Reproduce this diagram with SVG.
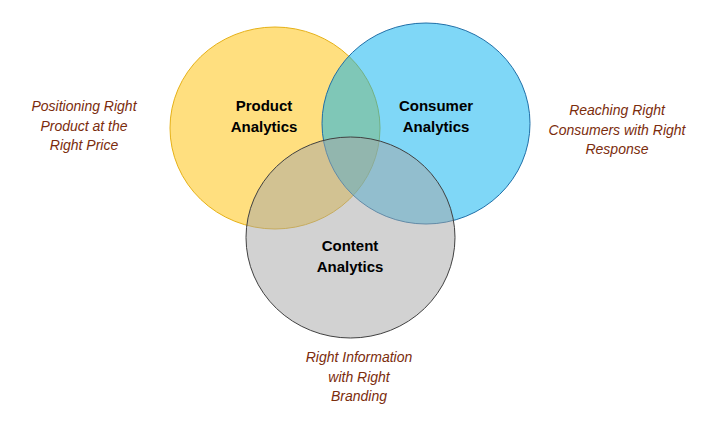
<svg xmlns="http://www.w3.org/2000/svg" width="723" height="423" viewBox="0 0 723 423">
<style>
.c{stroke-width:1}
.t{font-family:"Liberation Sans",Arial,sans-serif;font-weight:bold;font-size:15px;fill:#000;text-anchor:middle}
.n{font-family:"Liberation Sans",Arial,sans-serif;font-style:italic;font-size:14px;fill:#7B2C0C;text-anchor:middle}
</style>
<rect width="723" height="423" fill="#fff"/>
<g id="product">
<ellipse class="c" cx="275" cy="128" rx="105" ry="101" fill="#FFC000" fill-opacity="0.5" stroke="#E6B117"/>
<text class="t" x="264" y="111">Product</text>
<text class="t" x="264" y="132">Analytics</text>
</g>
<g id="consumer">
<ellipse class="c" cx="426" cy="123.5" rx="104" ry="100.5" fill="#00B0F0" fill-opacity="0.5" stroke="#1E6FA8"/>
<text class="t" x="436" y="111">Consumer</text>
<text class="t" x="436" y="132">Analytics</text>
</g>
<g id="content">
<ellipse class="c" cx="350.5" cy="237.5" rx="104.5" ry="100.5" fill="#A6A6A6" fill-opacity="0.5" stroke="#404040"/>
<text class="t" x="350" y="251">Content</text>
<text class="t" x="350" y="272">Analytics</text>
</g>
<g id="connectors"></g>
<g id="notes">
<text class="n" x="84" y="111">Positioning Right</text>
<text class="n" x="84" y="131">Product at the</text>
<text class="n" x="84" y="150">Right Price</text>
<text class="n" x="617" y="115">Reaching Right</text>
<text class="n" x="617" y="135">Consumers with Right</text>
<text class="n" x="617" y="154">Response</text>
<text class="n" x="359" y="362">Right Information</text>
<text class="n" x="359" y="382">with Right</text>
<text class="n" x="359" y="401">Branding</text>
</g>
</svg>
